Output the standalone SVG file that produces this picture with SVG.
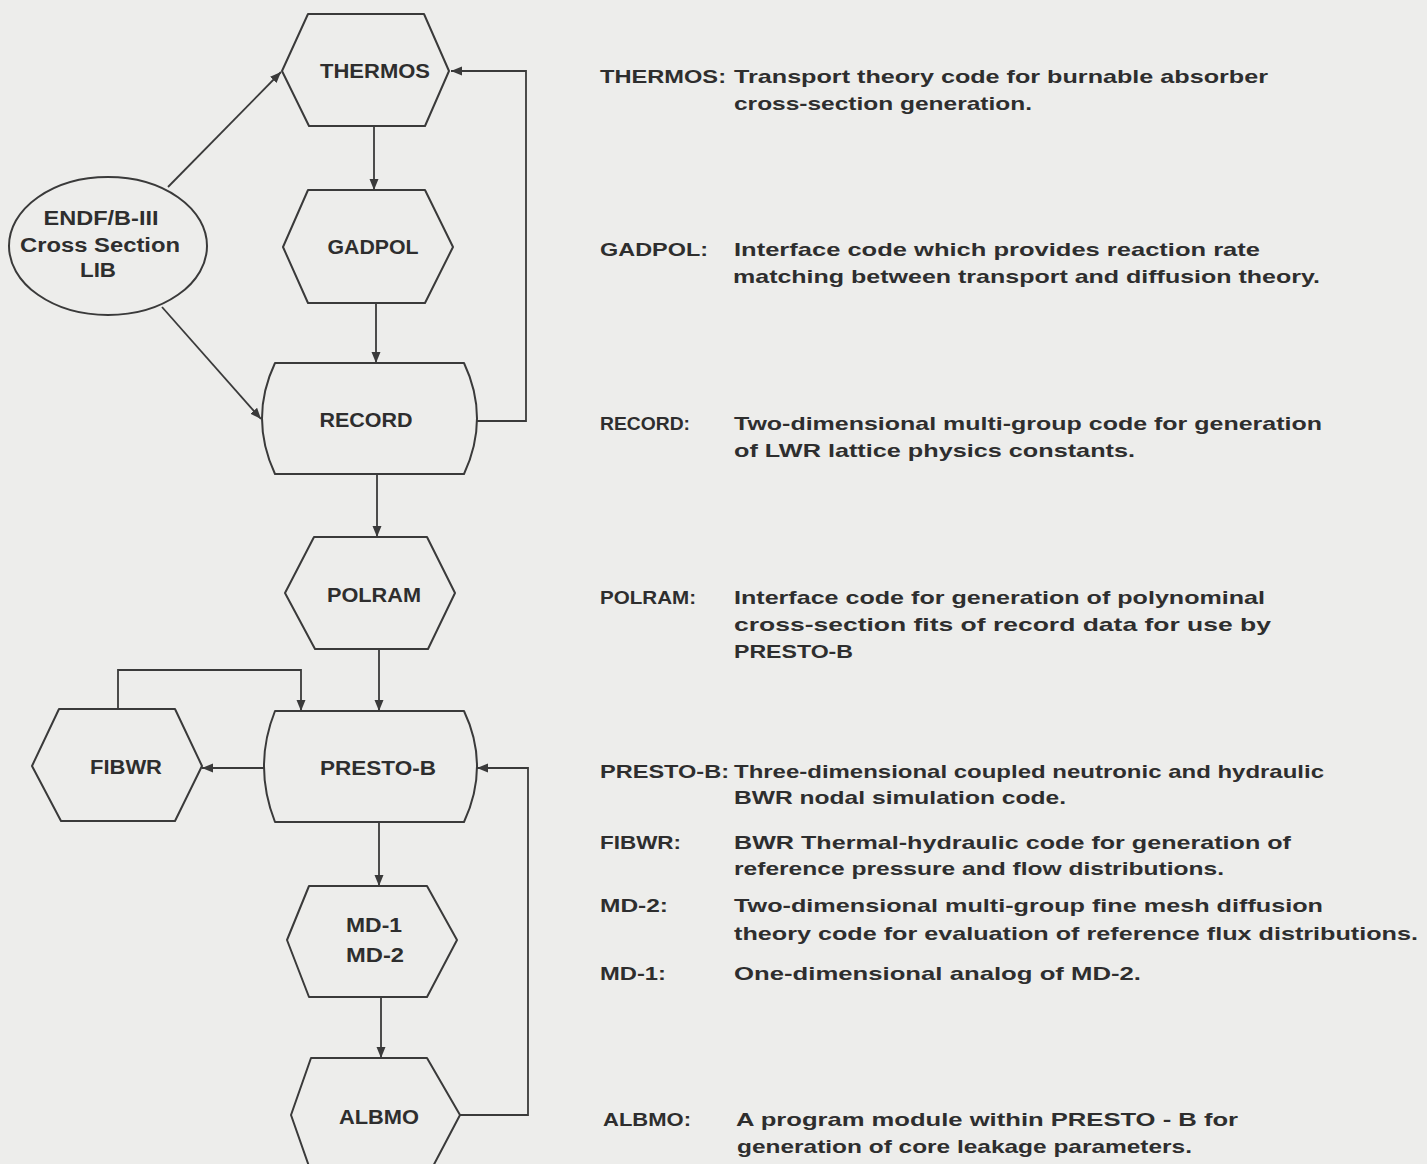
<svg xmlns="http://www.w3.org/2000/svg" width="1427" height="1164" viewBox="0 0 1427 1164">
<defs>
<marker id="ah" markerUnits="userSpaceOnUse" markerWidth="12" markerHeight="10" refX="11" refY="4.5" orient="auto">
<path d="M0,0 L11,4.5 L0,9 Z" fill="#3a3a3a"/>
</marker>
<style>
.shape{fill:none;stroke:#3a3a3a;stroke-width:2;stroke-linejoin:round}
.conn{fill:none;stroke:#3a3a3a;stroke-width:1.8}
.nl{font-family:"Liberation Sans",Arial,sans-serif;font-weight:bold;font-size:20px;fill:#2e2e2e;text-anchor:middle}
.tx{font-family:"Liberation Sans",Arial,sans-serif;font-weight:bold;font-size:19px;fill:#2e2e2e}
</style>
</defs>
<rect x="0" y="0" width="1427" height="1164" fill="#ededeb"/>

<g id="connectors">
<line class="conn" x1="168" y1="187" x2="281" y2="72" marker-end="url(#ah)"/>
<line class="conn" x1="162" y1="307" x2="261" y2="419" marker-end="url(#ah)"/>
<line class="conn" x1="374" y1="126" x2="374" y2="190" marker-end="url(#ah)"/>
<line class="conn" x1="376" y1="303" x2="376" y2="363" marker-end="url(#ah)"/>
<polyline class="conn" points="477,421 526,421 526,71 451,71" marker-end="url(#ah)"/>
<line class="conn" x1="377" y1="474" x2="377" y2="537" marker-end="url(#ah)"/>
<line class="conn" x1="379" y1="649" x2="379" y2="711" marker-end="url(#ah)"/>
<polyline class="conn" points="118,709 118,670 301,670 301,711" marker-end="url(#ah)"/>
<line class="conn" x1="264" y1="768" x2="202" y2="768" marker-end="url(#ah)"/>
<line class="conn" x1="379" y1="822" x2="379" y2="886" marker-end="url(#ah)"/>
<line class="conn" x1="381" y1="997" x2="381" y2="1058" marker-end="url(#ah)"/>
<polyline class="conn" points="460,1115 528,1115 528,768 477,768" marker-end="url(#ah)"/>
</g>

<g id="endf">
<ellipse class="shape" cx="108" cy="246" rx="99" ry="69"/>
<text class="nl" x="101" y="225" textLength="115" lengthAdjust="spacingAndGlyphs">ENDF/B-III</text>
<text class="nl" x="100" y="252" textLength="160" lengthAdjust="spacingAndGlyphs">Cross  Section</text>
<text class="nl" x="98" y="277" textLength="36" lengthAdjust="spacingAndGlyphs">LIB</text>
</g>

<g id="thermos">
<polygon class="shape" points="308,14 424,14 449,71 425,126 309,126 282,71"/>
<text class="nl" x="375" y="78" textLength="110" lengthAdjust="spacingAndGlyphs">THERMOS</text>
</g>

<g id="gadpol">
<polygon class="shape" points="308,190 425,190 453,247 425,303 308,303 283,247"/>
<text class="nl" x="373" y="254" textLength="91" lengthAdjust="spacingAndGlyphs">GADPOL</text>
</g>

<g id="record">
<path class="shape" d="M275,363 L464,363 Q490,418 464,474 L275,474 Q249,418 275,363 Z"/>
<text class="nl" x="366" y="427" textLength="93" lengthAdjust="spacingAndGlyphs">RECORD</text>
</g>

<g id="polram">
<polygon class="shape" points="314,537 427,537 455,593 428,649 315,649 285,593"/>
<text class="nl" x="374" y="602" textLength="94" lengthAdjust="spacingAndGlyphs">POLRAM</text>
</g>

<g id="presto">
<path class="shape" d="M275,711 L464,711 Q490,766 464,822 L275,822 Q253,766 275,711 Z"/>
<text class="nl" x="378" y="775" textLength="116" lengthAdjust="spacingAndGlyphs">PRESTO-B</text>
</g>

<g id="fibwr">
<polygon class="shape" points="59,709 175,709 202,766 175,821 61,821 32,766"/>
<text class="nl" x="126" y="774" textLength="72" lengthAdjust="spacingAndGlyphs">FIBWR</text>
</g>

<g id="md">
<polygon class="shape" points="309,886 427,886 457,940 427,997 309,997 287,940"/>
<text class="nl" x="374" y="932" textLength="56" lengthAdjust="spacingAndGlyphs">MD-1</text>
<text class="nl" x="375" y="962" textLength="58" lengthAdjust="spacingAndGlyphs">MD-2</text>
</g>

<g id="albmo">
<polygon class="shape" points="311,1058 427,1058 460,1115 430,1172 311,1172 291,1115"/>
<text class="nl" x="379" y="1124" textLength="80" lengthAdjust="spacingAndGlyphs">ALBMO</text>
</g>

<g id="descriptions">
<text class="tx" x="600" y="83" textLength="126" lengthAdjust="spacingAndGlyphs">THERMOS:</text>
<text class="tx" x="734" y="83" textLength="534" lengthAdjust="spacingAndGlyphs">Transport theory code for burnable  absorber</text>
<text class="tx" x="734" y="110" textLength="298" lengthAdjust="spacingAndGlyphs">cross-section generation.</text>

<text class="tx" x="600" y="256" textLength="108" lengthAdjust="spacingAndGlyphs">GADPOL:</text>
<text class="tx" x="734" y="256" textLength="526" lengthAdjust="spacingAndGlyphs">Interface code which provides reaction  rate</text>
<text class="tx" x="733" y="283" textLength="587" lengthAdjust="spacingAndGlyphs">matching between transport and diffusion theory.</text>

<text class="tx" x="600" y="430" textLength="90" lengthAdjust="spacingAndGlyphs">RECORD:</text>
<text class="tx" x="734" y="430" textLength="588" lengthAdjust="spacingAndGlyphs">Two-dimensional multi-group code for generation</text>
<text class="tx" x="734" y="457" textLength="401" lengthAdjust="spacingAndGlyphs">of LWR lattice physics constants.</text>

<text class="tx" x="600" y="604" textLength="96" lengthAdjust="spacingAndGlyphs">POLRAM:</text>
<text class="tx" x="734" y="604" textLength="531" lengthAdjust="spacingAndGlyphs">Interface code for generation of polynominal</text>
<text class="tx" x="734" y="631" textLength="537" lengthAdjust="spacingAndGlyphs">cross-section fits of record data for use by</text>
<text class="tx" x="734" y="658" textLength="119" lengthAdjust="spacingAndGlyphs">PRESTO-B</text>

<text class="tx" x="600" y="778" textLength="129" lengthAdjust="spacingAndGlyphs">PRESTO-B:</text>
<text class="tx" x="734" y="778" textLength="590" lengthAdjust="spacingAndGlyphs">Three-dimensional coupled neutronic and  hydraulic</text>
<text class="tx" x="734" y="804" textLength="332" lengthAdjust="spacingAndGlyphs">BWR nodal simulation code.</text>

<text class="tx" x="600" y="849" textLength="81" lengthAdjust="spacingAndGlyphs">FIBWR:</text>
<text class="tx" x="734" y="849" textLength="557" lengthAdjust="spacingAndGlyphs">BWR Thermal-hydraulic code for generation of</text>
<text class="tx" x="734" y="875" textLength="490" lengthAdjust="spacingAndGlyphs">reference pressure and flow distributions.</text>

<text class="tx" x="600" y="912" textLength="68" lengthAdjust="spacingAndGlyphs">MD-2:</text>
<text class="tx" x="734" y="912" textLength="589" lengthAdjust="spacingAndGlyphs">Two-dimensional multi-group  fine mesh diffusion</text>
<text class="tx" x="734" y="940" textLength="684" lengthAdjust="spacingAndGlyphs">theory code for evaluation of reference flux distributions.</text>

<text class="tx" x="600" y="980" textLength="66" lengthAdjust="spacingAndGlyphs">MD-1:</text>
<text class="tx" x="734" y="980" textLength="407" lengthAdjust="spacingAndGlyphs">One-dimensional analog of  MD-2.</text>

<text class="tx" x="603" y="1126" textLength="88" lengthAdjust="spacingAndGlyphs">ALBMO:</text>
<text class="tx" x="736" y="1126" textLength="502" lengthAdjust="spacingAndGlyphs">A program module within  PRESTO - B  for</text>
<text class="tx" x="737" y="1153" textLength="455" lengthAdjust="spacingAndGlyphs">generation of core leakage parameters.</text>
</g>
</svg>
